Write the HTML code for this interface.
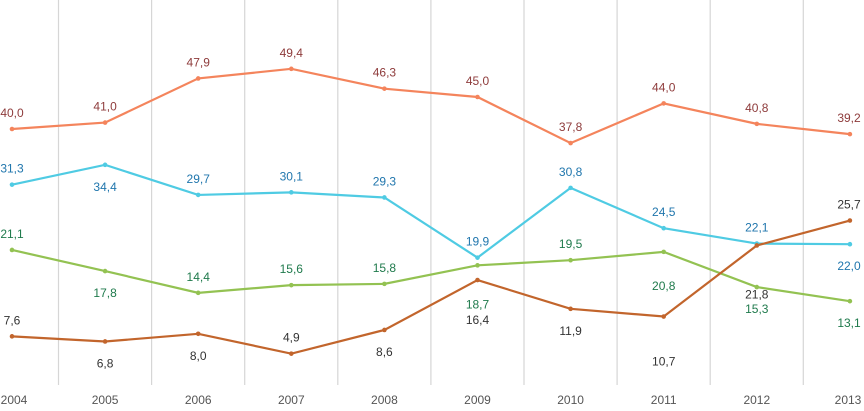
<!DOCTYPE html>
<html><head><meta charset="utf-8"><style>
body{margin:0;background:#fff}
svg text{font-family:"Liberation Sans",sans-serif;font-size:12px}
</style></head><body>
<svg id="c" width="864" height="406"></svg>
<script>
const years=["2004","2005","2006","2007","2008","2009","2010","2011","2012","2013"];
const orangeVals=[40.0,41.0,47.9,49.4,46.3,45.0,37.8,44.0,40.8,39.2];
const blueVals=[31.3,34.4,29.7,30.1,29.3,19.9,30.8,24.5,22.1,22.0];
const greenVals=[21.1,17.8,14.4,15.6,15.8,18.7,19.5,20.8,15.3,13.1];
const brownVals=[7.6,6.8,8.0,4.9,8.6,16.4,11.9,10.7,21.8,25.7];
const NS="http://www.w3.org/2000/svg";
const svg=document.getElementById('c');
const x=i=>12+i*93.1;
const y=v=>385-v*6.4;
// label vertical offsets (style, px relative to point)
const A=-12,B=26;
const orangeOff=[A,A,A,A,A,A,A,A,A,A];
const blueOff=[A,B,A,A,A,A,A,A,A,B];
const greenOff=[A,B,A,A,A,43,A,38,B,B];
const brownOff=[A,B,B,A,B,44,B,49,53,A];
function mk(t,a){const e=document.createElementNS(NS,t);for(const k in a)e.setAttribute(k,a[k]);svg.appendChild(e);return e;}
for(let i=0;i<9;i++){
 const g=mk('line',{x1:x(i)+46.5,x2:x(i)+46.5,y1:0,y2:385,stroke:'#d6d6d6','stroke-width':1.2});
 
 
}
years.forEach((t,i)=>{
 const e=mk('text',{x:Math.min(Math.max(x(i),14),848),y:404,'text-anchor':'middle',fill:'#555','font-size':'11px'});
 e.textContent=t;
 
 
});
const series=[
 ['orange',orangeVals,orangeOff,'#f4845c','#8e3b3b'],
 ['blue',blueVals,blueOff,'#4fcbe3','#2076ad'],
 ['green',greenVals,greenOff,'#93c252','#1f7a4c'],
 ['brown',brownVals,brownOff,'#c2652c','#333333']
];
series.forEach(([n,vals,off,col,lc])=>{
 const p=mk('polyline',{points:vals.map((v,i)=>x(i)+','+y(v)).join(' '),fill:'none',stroke:col,'stroke-width':2.2});
 
 
 vals.forEach((v,i)=>{
  const c=mk('circle',{cx:x(i),cy:y(v),r:2.3,fill:col});
  
  
  const tx=Math.min(Math.max(x(i),12),849);
  const l=mk('text',{x:tx,y:y(v)+off[i],'text-anchor':'middle',fill:lc});
  l.textContent=v.toFixed(1).replace('.',',');
  
  
 });
});
</script>
</body></html>
